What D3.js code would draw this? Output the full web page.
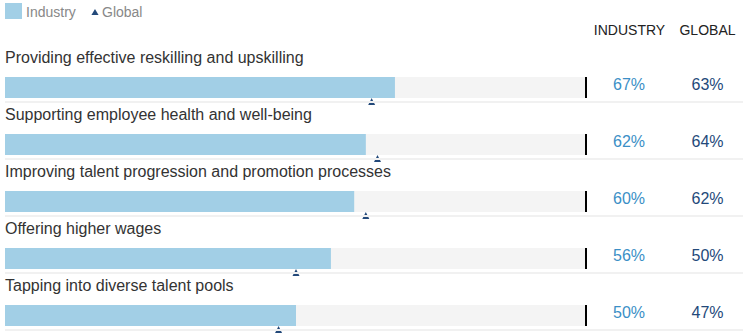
<!DOCTYPE html>
<html><head><meta charset="utf-8">
<script src="https://cdn.jsdelivr.net/npm/d3@7"></script>
<style>body{margin:0;background:#fff}svg{display:block;font-family:"Liberation Sans",Arial,Helvetica,sans-serif}</style>
</head><body><svg id="c" width="751" height="333"></svg>
<script>
const categories = ["Providing effective reskilling and upskilling","Supporting employee health and well-being","Improving talent progression and promotion processes","Offering higher wages","Tapping into diverse talent pools"];
const industry = [67, 62, 60, 56, 50];
const global = [63, 64, 62, 50, 47];
const headers = ["INDUSTRY", "GLOBAL"];
const legendLabels = ["Industry", "Global"];

const svg = d3.select("#c");
const x = d3.scaleLinear().domain([0, 100]).range([5, 587]);
const rowY = d3.scaleBand().domain(d3.range(categories.length)).range([45, 330]).paddingInner(0).paddingOuter(0);
const fmt = d => d + "%";
const barC = "#a2cfe6", darkC = "#23497a", indC = "#3b8fc6";

// legend
svg.append("rect").attr("x",5).attr("y",3).attr("width",17).attr("height",16).attr("fill",barC);
svg.append("text").attr("x",26).attr("y",17).attr("font-size",14).attr("fill","#888").text(legendLabels[0]);
svg.append("path").attr("d",d3.symbol(d3.symbolTriangle,22)()).attr("transform","translate(95,13)").attr("fill",darkC);
svg.append("text").attr("x",102).attr("y",17).attr("font-size",14).attr("fill","#888").text(legendLabels[1]);

// headers
svg.append("text").attr("x",629.5).attr("y",35).attr("text-anchor","middle").attr("font-size",14).attr("fill","#222").text(headers[0]);
svg.append("text").attr("x",707.5).attr("y",35).attr("text-anchor","middle").attr("font-size",14).attr("fill","#222").text(headers[1]);

const rows = svg.selectAll("g.row").data(categories).join("g").attr("class","row")
  .attr("transform",(d,i)=>`translate(0,${rowY(i)})`);

rows.append("text").attr("x",5).attr("y",17.5).attr("font-size",16).attr("fill","#333").text(d=>d);
rows.append("rect").attr("x",x(0)).attr("y",32).attr("width",x(100)-x(0)-2).attr("height",21).attr("fill","#f4f4f4");
rows.append("rect").attr("x",x(0)).attr("y",32).attr("width",(d,i)=>x(industry[i])-x(0)).attr("height",21).attr("fill",barC);
rows.append("rect").attr("x",x(100)-2).attr("y",32).attr("width",2).attr("height",21).attr("fill","#000");
rows.append("path").attr("d","M0,0 L3.5,7 L-3.5,7 Z").attr("transform",(d,i)=>`translate(${x(global[i])},53)`).attr("fill",darkC);
rows.append("rect").attr("x",5).attr("y",56).attr("width",738).attr("height",2).attr("fill","#f1f1f1");
rows.append("text").attr("x",629).attr("y",45).attr("text-anchor","middle").attr("font-size",16).attr("fill",indC).text((d,i)=>fmt(industry[i]));
rows.append("text").attr("x",707.5).attr("y",45).attr("text-anchor","middle").attr("font-size",16).attr("fill",darkC).text((d,i)=>fmt(global[i]));
</script></body></html>
